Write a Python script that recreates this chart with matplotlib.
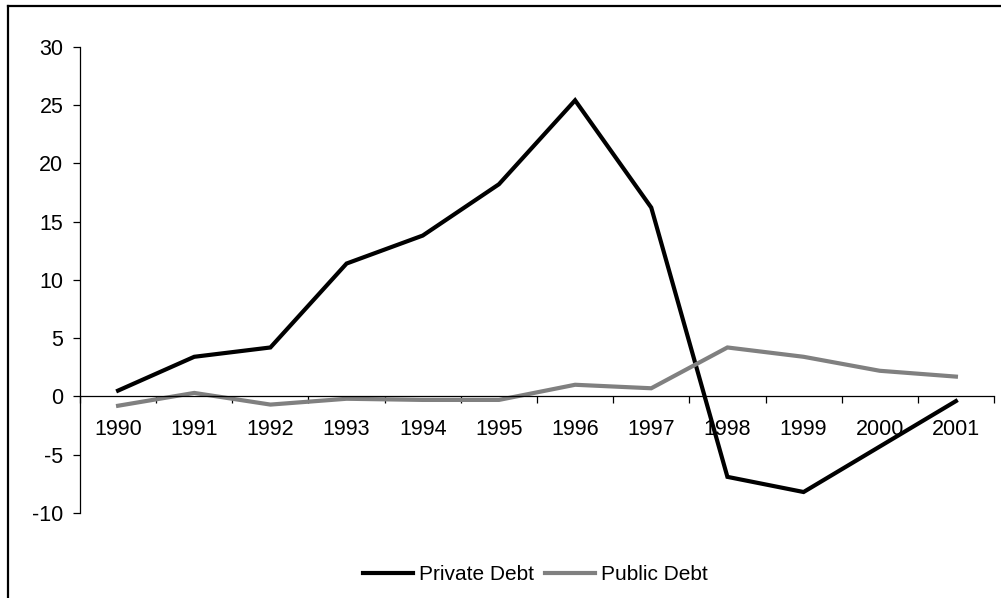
import matplotlib
matplotlib.use("Agg")
import matplotlib.pyplot as plt
from matplotlib.lines import Line2D
from matplotlib.ticker import FixedLocator, NullFormatter

plt.rcParams['font.family'] = ['Liberation Sans', 'DejaVu Sans']
plt.rcParams['axes.unicode_minus'] = False

# data
years = ["1990", "1991", "1992", "1993", "1994", "1995",
         "1996", "1997", "1998", "1999", "2000", "2001"]
private_debt = [0.5, 3.4, 4.2, 11.4, 13.8, 18.2, 25.4, 16.2, -6.9, -8.2, -4.3, -0.4]
public_debt = [-0.8, 0.3, -0.7, -0.2, -0.3, -0.3, 1.0, 0.7, 4.2, 3.4, 2.2, 1.7]

W, H = 1001, 598
fig = plt.figure(figsize=(W / 100, H / 100), dpi=100)
ax = fig.add_axes([80 / W, 1 - 513 / H, (994 - 80) / W, (513 - 46.7) / H])

x = list(range(len(years)))
ax.plot(x, private_debt, color='black', lw=3, label="Private Debt", solid_joinstyle='miter')
ax.plot(x, public_debt, color='#808080', lw=3, label="Public Debt", solid_joinstyle='miter')

ax.set_xlim(-0.5, len(years) - 0.5)
ax.set_ylim(-10, 30)
ax.set_yticks(range(-10, 31, 5))

# category axis sits on y = 0, ticks between categories
ax.spines['bottom'].set_position(('data', 0))
ax.spines['top'].set_visible(False)
ax.spines['right'].set_visible(False)
for s in ('left', 'bottom'):
    ax.spines[s].set_linewidth(0.9)
ax.xaxis.set_major_locator(FixedLocator([i - 0.5 for i in range(len(years) + 1)]))
ax.xaxis.set_major_formatter(NullFormatter())
ax.xaxis.set_minor_locator(FixedLocator(x))
ax.set_xticklabels(years, minor=True)
ax.tick_params(axis='x', which='major', direction='out', length=5, width=0.9)
ax.tick_params(axis='x', which='minor', length=0, pad=16, labelsize=15.5)
ax.tick_params(axis='y', direction='out', length=5, width=0.9, labelsize=15.5, pad=7)

fig.legend(loc='center', bbox_to_anchor=(0.535, 1 - 575 / H), ncol=2, frameon=False,
           fontsize=15, handlelength=2.4, handletextpad=0.3, columnspacing=0.5)

# outer frame (only top and left edges visible in the reference)
fig.add_artist(Line2D([8 / W, 1], [1 - 5.5 / H, 1 - 5.5 / H], color='black', lw=1.6,
                      transform=fig.transFigure))
fig.add_artist(Line2D([8 / W, 8 / W], [0, 1 - 5.5 / H], color='black', lw=1.6,
                      transform=fig.transFigure))

fig.savefig("out.png", dpi=100)
